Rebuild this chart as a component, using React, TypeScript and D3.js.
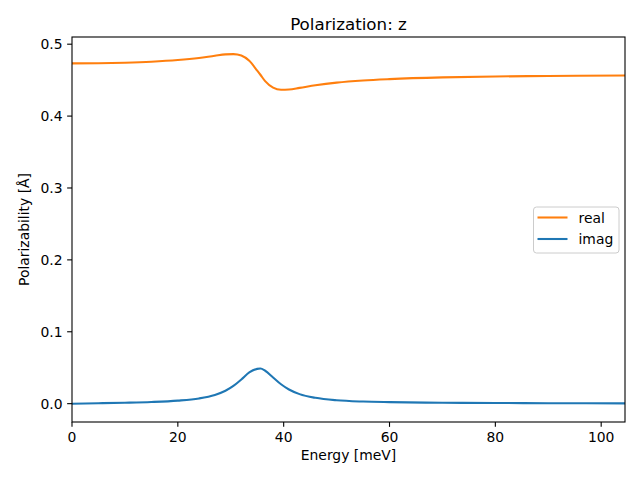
import React, { useEffect } from "react";
import * as d3 from "d3";

const energy = [0, 5, 10, 15, 20, 24, 27, 29, 30.5, 32, 33.5, 35, 35.6, 36.5, 38, 39.5, 41, 43, 46, 50, 55, 60, 70, 80, 90, 104.5];
const realValues = [0.4733, 0.4736, 0.4743, 0.4756, 0.4779, 0.4808, 0.4839, 0.4858, 0.4862, 0.4842, 0.4768, 0.4632, 0.4575, 0.4486, 0.4396, 0.4367, 0.437, 0.4392, 0.4428, 0.4465, 0.4495, 0.4514, 0.4538, 0.4551, 0.4558, 0.4565];
const imagValues = [0, 0.0006, 0.0013, 0.0023, 0.0042, 0.0073, 0.0122, 0.018, 0.0247, 0.0337, 0.0434, 0.0484, 0.0489, 0.0458, 0.0365, 0.0270, 0.0197, 0.0133, 0.0081, 0.0047, 0.0029, 0.0021, 0.0013, 0.0009, 0.0006, 0.0004];
const xTicks = [0, 20, 40, 60, 80, 100];
const yTicks = [0, 0.1, 0.2, 0.3, 0.4, 0.5];
const seriesNames = ["real", "imag"];
const seriesColors = ["#ff7f0e", "#1f77b4"];

const W = 640, H = 480;
const L = 72, R = 625, T = 37, B = 422;
const FONT = "DejaVu Sans, sans-serif";

export default function App() {
  useEffect(() => {
    document.body.style.margin = "0";
  }, []);
  const x = d3.scaleLinear().domain([0, 104.5]).range([L, R]);
  const y = d3.scaleLinear().domain([-0.0255, 0.51]).range([B, T]);
  const line = d3
    .line<number>()
    .x((_, i) => x(energy[i]))
    .curve(d3.curveMonotoneX);
  const realPath = line.y((d) => y(d))(realValues) || "";
  const imagPath = line.y((d) => y(d))(imagValues) || "";
  const paths = [realPath, imagPath];
  const fmt = d3.format(".1f");

  return (
    <svg width={W} height={H} style={{ position: "absolute", left: 0, top: 0, background: "#fff" }} fontFamily={FONT}>
      <rect x={0} y={0} width={W} height={H} fill="#fff" />
      <defs>
        <clipPath id="plotclip">
          <rect x={L} y={T} width={R - L} height={B - T} />
        </clipPath>
      </defs>
      <g clipPath="url(#plotclip)">
        {paths.map((p, i) => (
          <path key={i} d={p} fill="none" stroke={seriesColors[i]} strokeWidth={2.08} strokeLinecap="square" />
        ))}
      </g>
      <rect x={L} y={T} width={R - L} height={B - T} fill="none" stroke="#000" strokeWidth={1.1} />
      {xTicks.map((t) => (
        <g key={"x" + t}>
          <line x1={x(t)} x2={x(t)} y1={B} y2={B + 4.86} stroke="#000" strokeWidth={1.1} />
          <text x={x(t)} y={442} textAnchor="middle" fontSize={13.9} fill="#000">
            {t}
          </text>
        </g>
      ))}
      {yTicks.map((t) => (
        <g key={"y" + t}>
          <line x1={L - 4.86} x2={L} y1={y(t)} y2={y(t)} stroke="#000" strokeWidth={1.1} />
          <text x={62.5} y={y(t)} dy="0.36em" textAnchor="end" fontSize={13.9} fill="#000">
            {fmt(t)}
          </text>
        </g>
      ))}
      <text x={(L + R) / 2} y={460} textAnchor="middle" fontSize={13.9} fill="#000">
        Energy [meV]
      </text>
      <text transform={`translate(29,${(T + B) / 2}) rotate(-90)`} textAnchor="middle" fontSize={13.9} fill="#000">
        Polarizability [Å]
      </text>
      <text x={(L + R) / 2} y={29.5} textAnchor="middle" fontSize={16.7} fill="#000">
        Polarization: z
      </text>
      <g>
        <rect x={533.5} y={207} width={85.5} height={46} rx={3} ry={3} fill="#fff" fillOpacity={0.8} stroke="#cccccc" strokeWidth={1} />
        {seriesNames.map((n, i) => (
          <g key={n}>
            <line x1={537.5} x2={567.5} y1={217.5 + i * 21.5} y2={217.5 + i * 21.5} stroke={seriesColors[i]} strokeWidth={2.08} />
            <text x={578.5} y={217.5 + i * 21.5} dy="0.36em" fontSize={13.9} fill="#000">
              {n}
            </text>
          </g>
        ))}
      </g>
    </svg>
  );
}
